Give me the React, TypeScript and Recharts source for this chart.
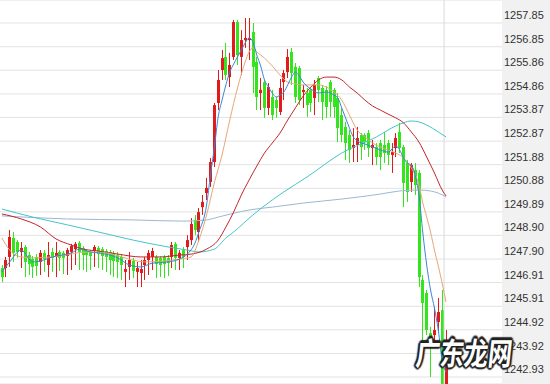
import { ComposedChart, Bar, Line, XAxis, YAxis, CartesianGrid, ReferenceLine } from 'recharts'

// candles, oldest first (red = close above open, green = close below open)
const opens = [
  1247.52, 1247.52, 1247.99, 1248.79, 1248.62, 1248.2, 1248.41, 1248.07, 1247.9, 1247.99,
  1247.78, 1248.16, 1247.65, 1248.2, 1247.99, 1248.2, 1248.16, 1248.03, 1248.2, 1248.32,
  1248.58, 1248.37, 1248.24, 1248.2, 1248.24, 1248.37, 1248.32, 1248.24, 1248.2, 1248.16,
  1248.07, 1247.99, 1247.36, 1247.57, 1247.82, 1247.36, 1247.31, 1247.65, 1247.86, 1247.99,
  1247.99, 1247.95, 1247.99, 1247.95, 1247.99, 1248.54, 1247.95, 1248.28, 1248.41, 1248.7,
  1249.55, 1249.04, 1250.09, 1250.68, 1251.15, 1251.99, 1254.48, 1255.87, 1256.42, 1255.57,
  1256.42, 1257.89, 1256.42, 1257.13, 1257.13, 1257.47, 1256.21, 1254.9, 1255.36, 1254.27,
  1254.73, 1254.6, 1254.1, 1255.36, 1255.78, 1256.63, 1256.0, 1255.95, 1254.94, 1254.9,
  1255.03, 1254.69, 1255.53, 1255.11, 1255.03, 1255.36, 1255.03, 1254.69, 1253.97, 1253.47,
  1253.13, 1252.58, 1252.71, 1253.13, 1253.13, 1253.21, 1252.58, 1252.62, 1252.79, 1252.71,
  1252.79, 1252.29, 1252.58, 1253.26, 1252.62, 1251.95, 1251.15, 1251.65, 1251.53, 1247.02,
  1246.47, 1244.78, 1244.7, 1245.25, 1245.75, 1242.17,
]
const highs = [
  1247.65, 1247.99, 1249.13, 1249.04, 1248.7, 1248.62, 1248.49, 1248.2, 1248.03, 1248.11,
  1248.28, 1248.28, 1248.62, 1248.37, 1248.62, 1248.28, 1248.24, 1248.37, 1248.54, 1248.62,
  1248.66, 1248.45, 1248.32, 1248.28, 1248.49, 1248.45, 1248.41, 1248.32, 1248.28, 1248.24,
  1248.2, 1248.11, 1247.86, 1248.2, 1247.95, 1247.78, 1247.86, 1247.99, 1248.28, 1248.37,
  1248.07, 1248.03, 1248.07, 1248.07, 1248.62, 1248.62, 1248.28, 1248.41, 1248.91, 1249.63,
  1249.76, 1250.05, 1250.6, 1251.32, 1252.16, 1254.48, 1255.87, 1256.71, 1257.01, 1256.59,
  1257.98, 1257.98, 1257.55, 1258.06, 1258.06, 1257.85, 1256.42, 1255.53, 1255.45, 1255.32,
  1255.03, 1254.73, 1255.49, 1255.87, 1256.75, 1256.8, 1256.16, 1256.04, 1255.24, 1255.11,
  1255.11, 1255.45, 1255.62, 1255.24, 1255.19, 1255.45, 1255.11, 1254.9, 1254.27, 1253.68,
  1253.34, 1253.42, 1253.47, 1253.21, 1253.21, 1253.34, 1252.92, 1252.79, 1252.92, 1253.26,
  1252.92, 1252.79, 1253.21, 1253.64, 1252.71, 1252.08, 1251.95, 1251.95, 1251.65, 1247.23,
  1246.6, 1245.04, 1245.88, 1246.26, 1246.6, 1244.91,
]
const lows = [
  1246.93, 1247.14, 1247.57, 1247.78, 1247.95, 1247.52, 1247.14, 1247.23, 1247.1, 1247.19,
  1247.23, 1247.36, 1247.14, 1247.36, 1247.14, 1247.4, 1247.27, 1247.23, 1247.44, 1247.65,
  1247.44, 1247.44, 1247.36, 1247.44, 1247.57, 1247.52, 1247.44, 1247.36, 1247.23, 1247.14,
  1247.1, 1247.02, 1246.72, 1247.02, 1247.1, 1246.72, 1246.72, 1247.02, 1247.23, 1247.44,
  1247.1, 1247.14, 1247.1, 1247.19, 1247.52, 1247.44, 1247.44, 1247.52, 1247.86, 1248.49,
  1248.91, 1248.62, 1249.76, 1250.39, 1250.94, 1251.78, 1254.18, 1255.45, 1255.45, 1255.15,
  1256.29, 1256.08, 1255.66, 1256.8, 1256.29, 1254.9, 1254.18, 1254.18, 1253.85, 1253.97,
  1253.76, 1253.85, 1253.97, 1254.6, 1255.53, 1255.24, 1254.48, 1254.39, 1254.27, 1253.89,
  1254.1, 1253.97, 1254.52, 1253.76, 1253.85, 1253.89, 1253.85, 1252.83, 1252.83, 1252.08,
  1251.95, 1251.99, 1251.99, 1252.08, 1252.5, 1252.2, 1251.86, 1251.86, 1251.65, 1251.95,
  1251.86, 1251.53, 1252.2, 1252.37, 1250.09, 1250.31, 1250.73, 1250.6, 1246.72, 1244.49,
  1244.7, 1242.93, 1244.19, 1244.78, 1241.96, 1241.96,
]
const closes = [
  1247.14, 1247.86, 1248.83, 1248.16, 1248.2, 1248.37, 1247.78, 1247.69, 1247.57, 1247.61,
  1248.16, 1247.9, 1248.07, 1247.95, 1248.16, 1247.95, 1247.95, 1248.28, 1248.45, 1248.54,
  1248.2, 1248.07, 1248.07, 1248.03, 1248.41, 1248.11, 1248.03, 1247.99, 1247.86, 1247.82,
  1247.78, 1247.65, 1247.48, 1247.86, 1247.4, 1247.52, 1247.48, 1247.86, 1248.16, 1248.24,
  1247.69, 1247.65, 1247.69, 1247.73, 1248.49, 1247.95, 1248.16, 1247.99, 1248.7, 1249.38,
  1249.13, 1249.88, 1250.31, 1250.9, 1251.99, 1254.39, 1255.45, 1256.37, 1255.66, 1256.08,
  1257.89, 1256.5, 1257.13, 1257.22, 1257.22, 1256.0, 1254.73, 1255.03, 1254.27, 1255.15,
  1253.97, 1254.27, 1255.11, 1255.74, 1256.42, 1255.74, 1254.73, 1254.6, 1255.03, 1254.39,
  1254.48, 1255.24, 1255.03, 1254.52, 1254.31, 1254.52, 1254.31, 1253.42, 1253.13, 1252.79,
  1252.5, 1252.71, 1253.0, 1252.62, 1252.83, 1252.58, 1252.71, 1252.2, 1252.2, 1252.37,
  1252.29, 1252.41, 1253.0, 1252.58, 1251.11, 1250.73, 1251.86, 1251.02, 1247.14, 1246.05,
  1244.91, 1244.49, 1244.91, 1245.67, 1242.17, 1243.48,
]

// moving averages: [candle index, value]
const ma5: [number, number][] = [
  [0, 1247.35], [2, 1247.78], [5, 1248.28], [8, 1247.78], [10, 1247.82], [13, 1247.99],
  [18, 1248.16], [20, 1248.32], [23, 1248.2], [25, 1248.16], [30, 1247.95], [33, 1247.65],
  [36, 1247.57], [39, 1247.73], [43, 1247.78], [46, 1247.9], [48, 1248.11], [50, 1248.58],
  [51, 1249.04], [53, 1250.18], [54, 1251.44], [55, 1252.58], [56, 1253.89], [57, 1254.6],
  [58, 1255.24], [59, 1255.78], [60, 1256.12], [61, 1256.42], [62, 1256.71], [63, 1257.01],
  [64, 1257.22], [65, 1257.05], [66, 1256.5], [67, 1256.04], [68, 1255.45], [69, 1255.15],
  [70, 1254.9], [71, 1254.73], [72, 1254.81], [73, 1254.94], [74, 1255.24], [75, 1255.57],
  [76, 1255.78], [77, 1255.62], [78, 1255.36], [80, 1255.07], [82, 1254.9], [84, 1254.94],
  [86, 1254.81], [87, 1254.69], [88, 1254.27], [89, 1253.85], [90, 1253.42], [91, 1253.05],
  [92, 1252.88], [94, 1252.75], [96, 1252.62], [98, 1252.5], [100, 1252.41], [102, 1252.67],
  [103, 1252.5], [104, 1252.16], [105, 1251.95], [106, 1251.86], [107, 1251.44], [108, 1250.6],
  [109, 1249.0], [110, 1247.65], [111, 1246.6], [112, 1245.84], [113, 1244.91], [114, 1243.65],
  [115, 1243.14],
]
const ma10: [number, number][] = [
  [0, 1248.79], [2, 1248.28], [4, 1248.03], [8, 1247.95], [15, 1248.03], [22, 1248.2],
  [27, 1248.16], [31, 1247.99], [37, 1247.78], [42, 1247.82], [46, 1247.9], [49, 1247.99],
  [51, 1248.7], [53, 1249.76], [55, 1251.11], [57, 1252.29], [59, 1253.76], [61, 1255.11],
  [63, 1256.21], [64, 1256.63], [65, 1256.8], [66, 1256.63], [68, 1256.37], [70, 1256.04],
  [72, 1255.66], [74, 1255.36], [76, 1255.28], [78, 1255.24], [80, 1255.24], [82, 1255.24],
  [84, 1255.15], [86, 1254.94], [88, 1254.6], [90, 1253.97], [92, 1253.34], [94, 1253.05],
  [96, 1252.79], [98, 1252.62], [100, 1252.5], [102, 1252.37], [104, 1252.16], [106, 1251.74],
  [108, 1251.02], [109, 1250.26], [110, 1249.67], [111, 1249.04], [112, 1248.28], [113, 1247.61],
  [114, 1246.89], [115, 1246.09],
]
const ma20: [number, number][] = [
  [0, 1249.8], [5, 1249.59], [10, 1249.25], [14, 1248.75], [18, 1248.49], [21, 1248.32],
  [25, 1248.24], [30, 1248.11], [36, 1247.99], [41, 1247.99], [46, 1248.07], [49, 1248.11],
  [53, 1248.32], [56, 1248.7], [58, 1249.25], [60, 1249.88], [62, 1250.6], [64, 1251.23],
  [66, 1251.82], [68, 1252.37], [70, 1252.79], [72, 1253.21], [74, 1253.76], [76, 1254.27],
  [78, 1254.77], [80, 1255.15], [82, 1255.45], [84, 1255.57], [86, 1255.57], [88, 1255.45],
  [90, 1255.15], [92, 1254.9], [94, 1254.6], [96, 1254.35], [98, 1254.18], [100, 1254.01],
  [102, 1253.85], [104, 1253.64], [106, 1253.26], [108, 1252.83], [110, 1252.2], [112, 1251.53],
  [114, 1250.81], [115, 1250.56],
]
const ma30: [number, number][] = [
  [0, 1250.01], [8, 1249.67], [17, 1249.34], [25, 1249.04], [34, 1248.7], [43, 1248.41],
  [48, 1248.28], [51, 1248.2], [55, 1248.32], [58, 1248.79], [60, 1249.04], [65, 1249.76],
  [70, 1250.39], [73, 1250.73], [79, 1251.36], [88, 1252.37], [97, 1253.05], [102, 1253.51],
  [106, 1253.72], [108, 1253.68], [110, 1253.55], [113, 1253.26], [115, 1253.05],
]
const ma60: [number, number][] = [
  [0, 1249.72], [17, 1249.59], [34, 1249.55], [47, 1249.5], [53, 1249.55], [56, 1249.67],
  [64, 1249.97], [70, 1250.09], [78, 1250.26], [88, 1250.43], [98, 1250.64], [103, 1250.77],
  [108, 1250.81], [111, 1250.77], [113, 1250.68], [115, 1250.52],
]

const yTicks = [
  1257.85, 1256.85, 1255.86, 1254.86, 1253.87, 1252.87, 1251.88, 1250.88,
  1249.89, 1248.9, 1247.9, 1246.91, 1245.91, 1244.92, 1243.92, 1242.93,
]

const SLOTS = 130 // room on the right for sessions still to come
const UP = '#e11b1c'
const DOWN = '#33e51d'

function buildRows() {
  const rows: any[] = []
  for (let i = 0; i < SLOTS; i++) rows.push({ idx: i })
  opens.forEach((o, i) => {
    Object.assign(rows[i], { open: o, high: highs[i], low: lows[i], close: closes[i] })
  })
  const put = (key: string, pts: [number, number][]) => pts.forEach(([i, v]) => { rows[i][key] = v })
  put('ma5', ma5)
  put('ma10', ma10)
  put('ma20', ma20)
  put('ma30', ma30)
  put('ma60', ma60)
  return rows
}

const rows = buildRows()

function Candle(props: any) {
  const { x, y, width, height, payload } = props
  if (payload == null || payload.open == null) return null
  const top = Math.min(y, y + height)
  const h = Math.abs(height)
  const span = payload.high - payload.low || 1
  const toY = (v: number) => top + ((payload.high - v) / span) * h
  const color = payload.close >= payload.open ? UP : DOWN
  const cx = Math.round(x + width / 2)
  const bTop = toY(Math.max(payload.open, payload.close))
  const bBot = toY(Math.min(payload.open, payload.close))
  return (
    <g>
      <line x1={cx + 0.5} x2={cx + 0.5} y1={top} y2={top + h} stroke={color} />
      <rect x={cx - 1} y={bTop} width={3} height={Math.max(1, bBot - bTop)} fill={color} />
    </g>
  )
}

function PriceTick({ x, y, payload }: any) {
  return (
    <text x={x} y={y - 4} fontSize={11} fill="#333" fontFamily="'Liberation Sans', Arial, sans-serif">
      {payload.value.toFixed(2)}
    </text>
  )
}

const maLines = [
  { key: 'ma60', color: '#9cb8d2' },
  { key: 'ma30', color: '#46c4cb' },
  { key: 'ma20', color: '#c3252d' },
  { key: 'ma10', color: '#e6a77a' },
  { key: 'ma5', color: '#3b86d6' },
]

export default function App() {
  return (
    <div
      style={{
        position: 'absolute',
        left: 0,
        top: 0,
        width: 550,
        height: 384,
        overflow: 'hidden',
        background: 'linear-gradient(to right, #ffffff 502px, #f1f1f1 502px)',
      }}
    >
      <ComposedChart width={550} height={384} data={rows} margin={{ top: 0, right: 0, bottom: 0, left: 0 }}>
        <CartesianGrid vertical={false} stroke="#e2e2e2" />
        <XAxis dataKey="idx" type="category" hide />
        <YAxis
          orientation="right"
          width={48}
          domain={[1242.635, 1258.819]}
          allowDataOverflow
          ticks={yTicks}
          interval={0}
          tickLine={false}
          axisLine={false}
          tickSize={0}
          tickMargin={2}
          tick={<PriceTick />}
        />
        <ReferenceLine x={115} position="start" stroke="#dadada" />
        <Bar
          dataKey={(d: any) => (d.open == null ? null : [d.low, d.high])}
          barSize={3}
          shape={<Candle />}
          activeBar={false}
          isAnimationActive={false}
        />
        {maLines.map((m) => (
          <Line
            key={m.key}
            dataKey={m.key}
            type="monotone"
            stroke={m.color}
            dot={false}
            activeDot={false}
            connectNulls
            isAnimationActive={false}
          />
        ))}
      </ComposedChart>
      <div
        style={{
          position: 'absolute',
          left: 418,
          top: 336,
          fontFamily: "'Noto Sans CJK SC', sans-serif",
          fontWeight: 700,
          fontSize: 24,
          color: '#fff',
          lineHeight: 1,
          transform: 'scaleY(1.3) skewX(-8deg)',
          transformOrigin: 'left top',
          textShadow:
            '2px 0 1px #222, -2px 0 1px #222, 0 2px 1px #222, 0 -2px 1px #222, 1px 1px 1px #222, -1px -1px 1px #222, 1px -1px 1px #222, -1px 1px 1px #222',
        }}
      >
        广东龙网
      </div>
    </div>
  )
}
